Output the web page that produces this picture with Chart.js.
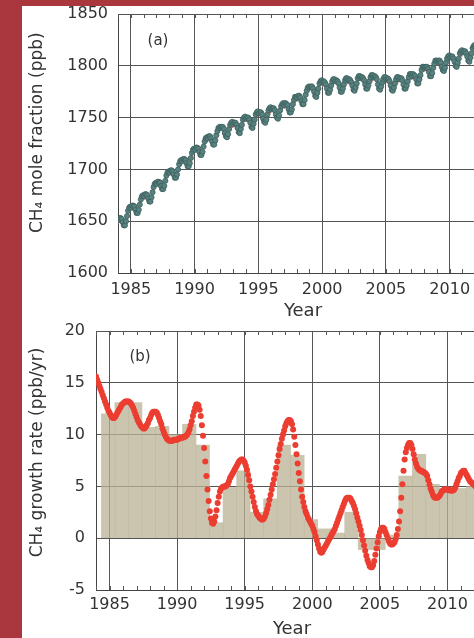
<!DOCTYPE html>
<html>
<head>
<meta charset="utf-8">
<script src="https://cdn.jsdelivr.net/npm/chart.js@4.4.0/dist/chart.umd.min.js"></script>
<style>
  html, body { margin: 0; padding: 0; }
  body { width: 474px; height: 638px; overflow: hidden; background: #a9373d; position: relative; }
  #sheet { position: absolute; left: 22px; top: 6px; width: 520px; height: 640px; background: #fff; }
  canvas { position: absolute; left: 0; display: block; }
  #ch4Chart { top: 0; }
  #rateChart { top: 316px; }
</style>
</head>
<body>
<div id="sheet">
  <canvas id="ch4Chart" width="500" height="314"></canvas>
  <canvas id="rateChart" width="500" height="316"></canvas>
</div>
<script>
// (a) monthly CH4 mole fraction, ppb, Jan 1984 onwards
const ch4Start = 1984;
const ch4Values = [
  1651,1653,1653,1652,1649,1646,1646,1650,1655,1660,1663,1664,
  1663,1665,1665,1664,1661,1658,1658,1661,1666,1671,1674,1675,
  1674,1676,1676,1675,1672,1669,1669,1673,1678,1683,1686,1687,
  1686,1688,1688,1687,1684,1681,1681,1684,1689,1694,1697,1698,
  1697,1699,1699,1698,1695,1692,1692,1695,1700,1705,1708,1709,
  1708,1710,1710,1709,1706,1703,1703,1706,1711,1716,1719,1720,
  1719,1721,1721,1720,1717,1714,1714,1717,1722,1727,1730,1731,
  1730,1732,1732,1730,1727,1724,1724,1728,1733,1737,1740,1741,
  1740,1741,1741,1739,1735,1732,1731,1734,1739,1743,1745,1746,
  1744,1745,1745,1743,1740,1736,1735,1739,1743,1748,1750,1751,
  1749,1750,1750,1748,1745,1741,1740,1744,1748,1753,1755,1756,
  1754,1755,1755,1753,1749,1746,1745,1748,1753,1757,1759,1760,
  1758,1759,1759,1757,1753,1750,1749,1752,1757,1761,1763,1764,
  1762,1764,1763,1762,1758,1755,1755,1758,1763,1767,1770,1770,
  1769,1771,1771,1769,1766,1763,1763,1767,1772,1776,1779,1780,
  1779,1780,1780,1778,1775,1771,1770,1774,1778,1783,1785,1786,
  1784,1785,1784,1782,1778,1774,1774,1777,1781,1785,1787,1787,
  1785,1786,1785,1783,1779,1775,1775,1778,1782,1786,1788,1788,
  1786,1787,1786,1784,1781,1777,1776,1779,1783,1788,1790,1790,
  1788,1789,1788,1786,1782,1778,1778,1781,1785,1789,1791,1791,
  1789,1790,1789,1787,1782,1778,1777,1780,1784,1787,1789,1789,
  1787,1788,1787,1785,1781,1777,1776,1779,1783,1787,1789,1789,
  1787,1788,1788,1786,1782,1778,1778,1781,1785,1789,1792,1792,
  1790,1792,1791,1790,1787,1783,1783,1787,1791,1796,1799,1799,
  1798,1799,1799,1797,1794,1790,1790,1793,1798,1802,1805,1805,
  1804,1805,1805,1803,1799,1796,1795,1798,1803,1807,1809,1810,
  1808,1809,1809,1807,1804,1800,1799,1803,1807,1812,1814,1815,
  1813,1814,1814,1812,1809,1805,1804,1808,1812,1817,1819,1820,
  1818,1819,1819,1817,1814,1810
];
// deseasonalised trend (dotted red line), value at start of each year
const trendYears = [1984,1985,1986,1987,1988,1989,1990,1991,1992,1993,1994,1995,1996,1997,1998,
                    1999,2000,2001,2002,2003,2004,2005,2006,2007,2008,2009,2010,2011,2012];
const trendValues = [1648,1660,1671,1683,1694,1705,1716,1727,1737,1741,1746,1751,1755,1759,1766,
                     1776,1781,1782,1783,1785,1786,1784,1784,1787,1795,1801,1805,1810,1815];

// (b) growth rate, ppb/yr, monthly from Jan 1984
const rateStart = 1984;
const rateValues = [
  15.6,15.3,15.0,14.7,14.4,14.1,13.8,13.5,13.2,12.9,12.6,12.3,
  12.1,11.9,11.7,11.6,11.6,11.7,11.9,12.1,12.3,12.5,12.7,12.9,
  13.0,13.1,13.2,13.2,13.2,13.2,13.1,13.0,12.8,12.6,12.3,12.0,
  11.7,11.4,11.2,11.0,10.8,10.7,10.6,10.6,10.7,10.9,11.1,11.4,
  11.6,11.9,12.1,12.2,12.2,12.2,12.1,11.9,11.6,11.3,11.0,10.6,
  10.3,10.0,9.8,9.6,9.5,9.4,9.4,9.4,9.4,9.5,9.5,9.5,
  9.5,9.6,9.6,9.7,9.7,9.7,9.8,9.8,9.9,10.0,10.2,10.5,
  10.9,11.3,11.8,12.2,12.6,12.9,12.9,12.8,12.4,11.8,10.9,9.9,
  8.7,7.4,6.0,4.7,3.6,2.6,1.9,1.5,1.4,1.6,2.1,2.7,
  3.4,4.0,4.5,4.8,4.9,5.0,5.0,5.0,5.1,5.2,5.5,5.8,
  6.0,6.2,6.4,6.6,6.8,7.0,7.2,7.4,7.5,7.6,7.6,7.5,
  7.3,7.0,6.6,6.1,5.6,5.0,4.5,4.0,3.5,3.0,2.6,2.3,
  2.2,2.0,1.9,1.8,1.8,1.9,2.1,2.4,2.8,3.2,3.7,4.2,
  4.7,5.2,5.7,6.2,6.8,7.4,8.0,8.6,9.1,9.6,10.0,10.4,
  10.8,11.1,11.3,11.4,11.4,11.3,11.0,10.5,9.8,9.0,8.1,7.2,
  6.3,5.5,4.7,4.0,3.5,3.0,2.6,2.3,2.0,1.8,1.6,1.4,
  1.2,0.9,0.6,0.2,-0.2,-0.6,-1.0,-1.3,-1.4,-1.3,-1.1,-0.9,
  -0.7,-0.5,-0.3,-0.1,0.1,0.3,0.5,0.7,0.9,1.2,1.5,1.8,
  2.1,2.4,2.7,3.0,3.3,3.6,3.8,3.9,3.9,3.9,3.8,3.6,
  3.4,3.1,2.8,2.4,2.0,1.6,1.2,0.8,0.3,-0.2,-0.7,-1.2,
  -1.7,-2.1,-2.4,-2.7,-2.8,-2.8,-2.6,-2.2,-1.6,-1.0,-0.4,0.2,
  0.6,0.9,1.0,1.0,0.9,0.6,0.3,0.0,-0.3,-0.5,-0.6,-0.6,
  -0.5,-0.4,-0.1,0.3,0.9,1.6,2.6,3.9,5.2,6.5,7.6,8.3,
  8.7,9.0,9.2,9.2,9.0,8.6,8.1,7.6,7.2,6.9,6.7,6.6,
  6.5,6.5,6.4,6.4,6.3,6.2,6.0,5.6,5.2,4.8,4.5,4.2,
  4.0,3.9,3.9,3.9,4.0,4.1,4.3,4.5,4.6,4.7,4.7,4.7,
  4.7,4.7,4.6,4.6,4.6,4.6,4.7,4.9,5.2,5.5,5.8,6.0,
  6.3,6.4,6.5,6.5,6.3,6.1,5.9,5.7,5.5,5.4,5.3,5.2,
  5.1,5.0,4.9
];
// annual increases (tan bars), bar centre in years
const barCenters = [1984.9,1985.9,1986.9,1987.9,1988.9,1989.9,1990.9,1991.9,1992.9,1993.9,1994.9,
                    1995.9,1996.9,1997.9,1998.9,1999.9,2000.9,2001.9,2002.9,2003.9,2004.9,2005.9,
                    2006.9,2007.9,2008.9,2009.9,2010.9,2011.9];
const barValues = [12.0,13.1,13.1,10.7,10.8,10.0,11.0,9.0,1.5,4.9,6.5,
                   2.5,3.8,9.0,8.0,1.8,0.9,0.5,2.5,-1.1,-1.1,0.3,
                   6.0,8.1,5.2,4.8,4.8,5.0];

const yearTicks = [1985, 1990, 1995, 2000, 2005, 2010];
const ch4Ticks = [1600, 1650, 1700, 1750, 1800, 1850];
const rateTicks = [-5, 0, 5, 10, 15, 20];

Chart.defaults.font.family = '"DejaVu Sans", sans-serif';
Chart.defaults.color = '#333';

// inward year ticks on top/bottom edges plus the (a)/(b) panel tag
const panelDecor = {
  id: 'panelDecor',
  afterDatasetsDraw(chart, args, opts) {
    const { ctx, chartArea: a, scales: { x } } = chart;
    ctx.save();
    ctx.strokeStyle = '#555';
    ctx.lineWidth = 1;
    ctx.beginPath();
    for (let yr = Math.ceil(x.min); yr <= x.max; yr++) {
      const px = Math.round(x.getPixelForValue(yr)) + 0.5;
      ctx.moveTo(px, a.top); ctx.lineTo(px, a.top + 4);
      ctx.moveTo(px, a.bottom); ctx.lineTo(px, a.bottom - 4);
    }
    ctx.stroke();
    ctx.fillStyle = '#333';
    ctx.font = '15px "DejaVu Sans"';
    ctx.textAlign = 'center';
    ctx.textBaseline = 'middle';
    ctx.fillText(opts.text, a.left + opts.dx, a.top + opts.dy);
    ctx.restore();
  }
};

const grid = { color: '#555', lineWidth: 1, drawTicks: false, offset: false };
const border = { color: '#444', width: 1 };
const fixTicks = list => scale => { scale.ticks = list.map(v => ({ value: v })); };

function xAxis(height, pad) {
  return {
    type: 'linear', min: 1984, max: 2013, offset: false,
    afterBuildTicks: fixTicks(yearTicks),
    afterFit: s => { s.height = height; s.paddingLeft = 0; s.paddingRight = 0; },
    ticks: { padding: pad, font: { size: 16, lineHeight: 1 }, callback: v => String(v) },
    grid: grid, border: border,
    title: { display: true, text: 'Year', font: { size: 18, lineHeight: 1 }, padding: 0 }
  };
}
function yAxis(min, max, ticks, width, pad, title) {
  return {
    min: min, max: max,
    afterBuildTicks: fixTicks(ticks),
    afterFit: s => { s.width = width; s.paddingTop = 0; s.paddingBottom = 0; },
    ticks: { padding: pad, font: { size: 16, lineHeight: 1 }, callback: v => String(v) },
    grid: grid, border: border,
    title: { display: true, text: title, font: { size: 17 }, padding: { top: 5, bottom: 0 } }
  };
}

new Chart(document.getElementById('ch4Chart'), {
  type: 'line',
  data: {
    datasets: [{
      data: ch4Values.map((v, i) => ({ x: ch4Start + (i + 0.5) / 12, y: v })),
      showLine: false,
      pointRadius: 2.6,
      pointBackgroundColor: '#58827f',
      pointBorderColor: '#3c5f5e',
      pointBorderWidth: 0.8
    }, {
      data: trendYears.map((yr, i) => ({ x: yr, y: trendValues[i] })),
      borderColor: '#e0666b',
      borderWidth: 1.5,
      borderDash: [2, 3],
      pointRadius: 0,
      fill: false
    }]
  },
  options: {
    responsive: false,
    animation: false,
    layout: { padding: { top: 8, right: 34, left: 0, bottom: 0 } },
    plugins: {
      legend: { display: false },
      tooltip: { enabled: false },
      panelDecor: { text: '(a)', dx: 40, dy: 27 }
    },
    scales: {
      x: xAxis(47, 9),
      y: yAxis(1600, 1850, ch4Ticks, 96, 10, '    CH\u2084 mole fraction (ppb)')
    }
  },
  plugins: [panelDecor]
});

new Chart(document.getElementById('rateChart'), {
  type: 'line',
  data: {
    datasets: [{
      data: rateValues.map((v, i) => ({ x: rateStart + i / 12, y: v })),
      showLine: false,
      pointRadius: 3,
      pointBorderWidth: 0,
      pointBackgroundColor: '#ec3d31'
    }, {
      type: 'bar',
      data: barCenters.map((c, i) => ({ x: c, y: barValues[i] })),
      backgroundColor: 'rgba(185,178,150,0.75)',
      borderWidth: 0,
      barPercentage: 1,
      categoryPercentage: 1,
      grouped: false
    }]
  },
  options: {
    responsive: false,
    animation: false,
    layout: { padding: { top: 9, right: 34, left: 0, bottom: 0 } },
    plugins: {
      legend: { display: false },
      tooltip: { enabled: false },
      panelDecor: { text: '(b)', dx: 44, dy: 26 }
    },
    scales: {
      x: xAxis(48, 7),
      y: yAxis(-5, 20, rateTicks, 74, 11, '   CH\u2084 growth rate (ppb/yr)')
    }
  },
  plugins: [panelDecor]
});
</script>
</body>
</html>
